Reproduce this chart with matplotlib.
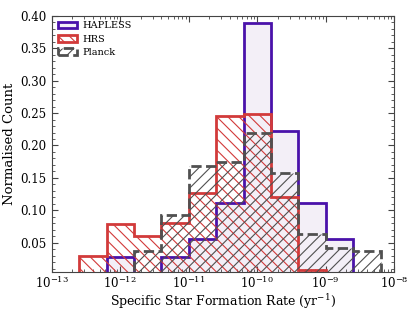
import numpy as np
import matplotlib
matplotlib.use('Agg')
import matplotlib.pyplot as plt
from matplotlib.ticker import AutoMinorLocator, LogLocator

plt.rcParams['font.family'] = 'DejaVu Serif'
plt.rcParams['mathtext.fontset'] = 'dejavuserif'
plt.rcParams['hatch.linewidth'] = 0.8

# log10 bin edges of sSFR
log_edges = np.array([-12.6, -12.2, -11.8, -11.4, -11.0, -10.6, -10.2,
                      -9.8, -9.4, -9.0, -8.6, -8.2])
hapless = [0.0, 0.0278, 0.0, 0.0278, 0.0556, 0.111, 0.389, 0.222, 0.111, 0.0556, 0.0]
hrs = [0.030, 0.079, 0.060, 0.081, 0.127, 0.245, 0.248, 0.120, 0.008, 0.0, 0.0]
planck = [0.0, 0.0, 0.038, 0.093, 0.168, 0.175, 0.219, 0.158, 0.064, 0.042, 0.038]

edges = 10 ** log_edges

fig = plt.figure(figsize=(4.15, 3.12), dpi=100)
ax = fig.add_axes([0.1246, 0.128, 0.8255, 0.8218])

ax.stairs(hapless, edges, fill=True, facecolor='#f3eff7', edgecolor='#4a12aa',
          linewidth=2, label='HAPLESS', zorder=1)
ax.stairs(hrs, edges, fill=True, facecolor='none', edgecolor='#d23a3a',
          hatch='\\\\\\', linewidth=2, label='HRS', zorder=2)
ax.stairs(planck, edges, fill=True, facecolor='none', edgecolor='#505050',
          hatch='///', linewidth=2, linestyle='--', label='Planck', zorder=3)

ax.set_xscale('log')
ax.set_xlim(1e-13, 1e-8)
ax.set_ylim(0.005, 0.40)
ax.set_yticks([0.05, 0.10, 0.15, 0.20, 0.25, 0.30, 0.35, 0.40])
ax.yaxis.set_minor_locator(AutoMinorLocator(5))
ax.xaxis.set_minor_locator(LogLocator(subs=np.arange(2, 10), numticks=20))
ax.tick_params(which='both', direction='in', top=True, right=True,
               labelsize=8.5, color='#444444')
ax.tick_params(axis='x', pad=2)
ax.tick_params(which='major', length=4)
ax.tick_params(which='minor', length=2)
for s in ax.spines.values():
    s.set_color('#444444')

ax.set_xlabel('Specific Star Formation Rate (yr$^{-1}$)', fontsize=9, labelpad=1)
ax.set_ylabel('Normalised Count', fontsize=9.5, labelpad=3)

ax.legend(loc='upper left', frameon=False, fontsize=7, handlelength=2.0,
          handleheight=0.7, borderaxespad=0.2, labelspacing=0.45,
          handletextpad=0.6)

fig.savefig('out.png', dpi=100)
